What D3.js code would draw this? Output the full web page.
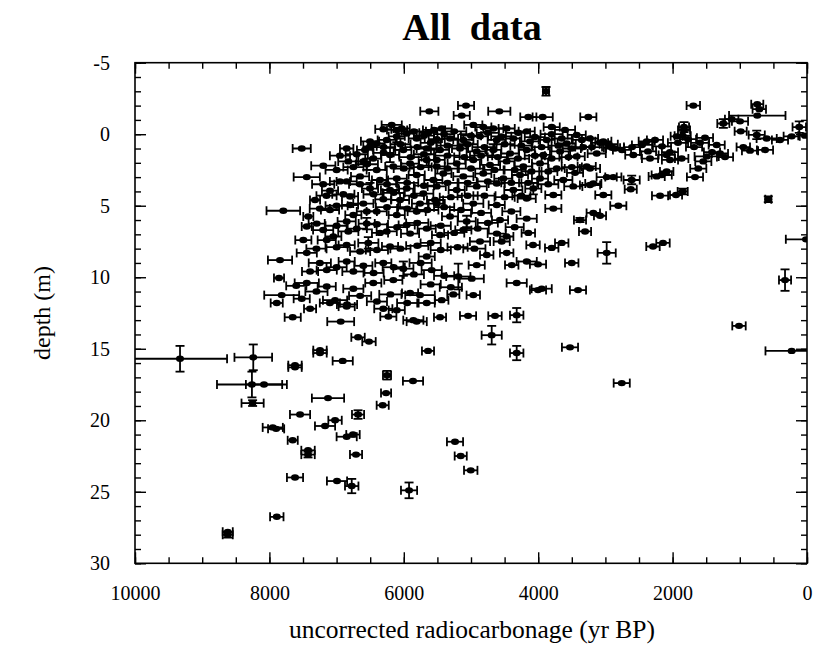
<!DOCTYPE html>
<html>
<head>
<meta charset="utf-8">
<script src="https://cdn.jsdelivr.net/npm/d3@7/dist/d3.min.js"></script>
<style>
  html, body { margin: 0; padding: 0; background: #fff; }
  svg { display: block; }
</style>
</head>
<body>
<svg id="chart" width="815" height="646"></svg>
<script>
// ---- data: [age (yr BP), depth (m), age error (yr), depth error (m)] ----
const titleText = "All  data";
const xLabel = "uncorrected radiocarbonage (yr BP)";
const yLabel = "depth (m)";
const xMajorTicks = [10000, 8000, 6000, 4000, 2000, 0];
const yMajorTicks = [-5, 0, 5, 10, 15, 20, 25, 30];

const isolatedPoints = [
  [9330,15.7,700,0.9],[8240,15.6,280,0.9],[8260,17.5,520,0.9],[8080,17.5,270,0],
  [8250,18.8,165,0.2],[8620,28.0,75,0.2],[8620,27.8,75,0],[7890,26.75,100,0],
  [7950,20.5,150,0],[7900,20.6,120,0],[7653,21.4,75,0],[7425,22.4,100,0.2],
  [7425,22.1,100,0],[7619,24.0,120,0],[7172,20.4,150,0],[7023,20.0,100,0],
  [6850,21.15,150,0],[6756,21.0,100,0],[6711,22.4,90,0],[6994,24.25,150,0],
  [6775,24.6,100,0.5],[5922,24.9,120,0.55],[5238,21.5,120,0],[5153,22.5,90,0],
  [5004,23.5,100,0],[7842,8.8,180,0],[7857,10.05,75,0],[7817,11.25,260,0],
  [7891,11.8,90,0],[7653,12.8,120,0],[7519,11.5,120,0],[7395,12.2,90,0],
  [7023,11.6,180,0],[6939,13.1,200,0],[6845,11.9,150,0],[6681,14.2,100,0],
  [6518,14.5,100,0],[7247,15.1,100,0],[7247,15.3,100,0],[7619,16.15,100,0],
  [7619,16.3,100,0],[6909,15.85,150,0],[7128,18.45,240,0],[7544,19.6,150,0],
  [6681,19.6,90,0.3],[6250,16.85,60,0.3],[6264,18.1,75,0],[6314,18.95,90,0],
  [2981,8.3,135,0.75],[2292,7.85,100,0],[2143,7.6,100,0],[3501,9.0,100,0],
  [3408,10.9,120,0],[3527,14.9,120,0],[2757,17.4,120,0],[1012,13.4,100,0],
  [327,10.2,90,0.75],[228,15.15,390,0],[15,7.35,300,0],[4320,12.65,100,0.5],
  [4320,15.3,100,0.5],[4692,14.05,150,0.65],[4320,10.4,150,0],[4643,12.7,100,0],
  [5044,12.7,120,0],[5461,12.8,90,0],[5808,13.1,150,0],[5640,15.15,90,0],
  [5863,17.25,150,0],[3948,10.8,150,0],[4003,10.9,120,0],[4003,9.1,120,0],
  [4171,8.9,150,0],[4394,9.15,100,0],[4077,7.75,100,0],[3799,7.95,100,0],
  [3650,7.6,100,0],[4469,8.3,100,0],[4766,8.45,100,0],[5189,9.95,180,0.9],
  [4989,10.1,180,0],[5585,9.5,150,0],[5263,11.2,90,0],[4966,11.25,100,0],
  [5436,11.6,100,0],[5759,11.25,220,0],[4469,7.15,100,0],[4147,6.9,100,0]
];

const topPoints = [
  [3884,-3.0,45,0.3],[5620,-1.6,135,0],[5074,-2.0,120,0],[5138,-1.3,120,0],
  [4579,-1.6,165,0],[4147,-1.2,120,0],[3933,-1.2,150,0],[3254,-1.2,120,0],
  [1692,-2.0,100,0],[740,-2.1,90,0],[710,-1.75,100,0],[740,-1.3,420,0],
  [1121,-1.05,100,0],[1245,-0.75,90,0.3],[997,-0.9,120,0],[987,-0.2,90,0],
  [115,-0.5,100,0.4],[1830,-0.5,75,0.35],[1850,0.1,120,0],[576,4.55,45,0.2],
  [5436,-0.4,150,0],[4469,-0.4,120,0],[3799,-0.5,120,0],[3601,-0.3,150,0]
];

const rightBand = [
  [1830,-0.3,90,0],[1939,0.15,90,0],[748,0.05,120,0.3],[600,0.3,150,0],
  [402,0.4,120,0],[228,0.15,120,0],[30,0.1,100,0],[1344,0.75,120,0],
  [1220,1.6,120,0],[948,0.9,100,0],[848,1.15,120,0],[625,1.1,120,0],
  [1493,1.55,180,0],[1543,1.9,120,0],[1618,2.4,120,0],[1667,3.0,120,0],
  [2162,2.85,150,0],[2237,2.95,120,0],[2088,2.6,100,0],[2187,4.3,120,0],
  [1949,4.25,90,0],[1850,4.0,75,0.2],[2808,5.0,120,0],[3031,4.25,120,0],
  [2609,3.2,120,0.3],[2623,3.85,90,0],[2981,3.0,150,0],[3180,5.5,100,0],
  [3378,6.0,90,0.15],[3080,5.7,90,0],[3303,6.8,90,0],[3229,2.4,150,0],
  [3229,3.55,150,0],[3452,2.7,120,0],[1865,1.7,100,0],[2039,1.8,120,0],
  [1295,1.35,120,0],[3080,0.6,120,0],[2902,0.95,120,0],[2753,1.1,135,0],
  [2604,0.9,120,0],[2455,0.75,150,0],[2366,1.2,120,0],[2262,0.4,120,0],
  [2158,0.85,135,0],[2039,1.25,120,0],[1920,0.6,150,0],[1771,0.35,120,0],
  [1681,0.9,120,0],[1592,0.6,135,0],[1518,0.25,120,0],[1414,1.25,120,0],
  [2585,1.45,120,0],[2385,0.5,120,0],[2336,1.7,120,0],[2088,1.45,120,0],
  [2882,3.0,120,0]
];

const denseCluster = [
  [7519,1.0,135,0],[7198,2.2,180,0],[7444,3.0,195,0],[7793,5.35,250,0],
  [6850,1.0,100,0],[6826,1.9,150,0],[7098,3.95,120,0],[7321,4.6,75,0],
  [7421,5.75,75,0],[7444,6.45,75,0],[6850,3.3,150,0],[6602,4.85,150,0],
  [6800,4.95,120,0],[6180,-0.65,150,0],[6305,-0.35,120,0],[6403,0.65,120,0],
  [6503,0.85,100,0],[6254,0.4,135,0],[6105,0.15,120,0.4],[5957,-0.05,150,0],
  [5808,0.3,120,0],[5635,-0.1,135,0],[5510,0.35,120,0],[5659,1.0,150,0],
  [6007,1.1,120,0],[6205,1.45,135,0.5],[6454,1.7,120,0],[6602,1.9,100,0],
  [6403,2.5,150,0],[6156,2.25,120,0],[5907,2.05,135,0],[5659,1.8,120,0.4],
  [5510,2.25,120,0],[6651,2.95,135,0],[6354,3.2,120,0],[6105,3.1,150,0],
  [5808,2.85,120,0],[5561,3.2,135,0],[6503,3.8,120,0.4],[6205,3.9,135,0],
  [5957,3.8,120,0],[5710,4.15,150,0],[6800,4.35,120,0],[6305,4.55,120,0],
  [6056,4.6,135,0.5],[5759,4.85,120,0],[5535,4.6,120,0],[7098,5.3,135,0],
  [6751,5.65,120,0],[6403,5.4,150,0],[6105,5.65,120,0],[5808,5.4,135,0],
  [7296,6.25,120,0],[6850,6.1,135,0],[6552,6.25,120,0.4],[6254,6.8,150,0],
  [5957,6.35,120,0],[5659,6.6,135,0],[7049,7.15,120,0],[6577,1.1,120,0],
  [6503,0.5,135,0],[6826,6.8,150,0],[6354,6.9,120,0],[7444,8.3,150,0],
  [7495,7.4,120,0],[7147,7.4,135,0],[6850,7.75,120,0],[6528,7.6,150,0.4],
  [6205,7.85,120,0],[5907,6.95,135,0],[6850,8.9,120,0],[7147,9.5,150,0],
  [7395,9.6,120,0],[6602,9.2,135,0],[6305,9.0,120,0],[6007,9.4,150,0.5],
  [5659,8.55,120,0],[7444,10.4,180,0],[7147,10.65,135,0],[6751,10.8,150,0],
  [6454,10.4,120,0],[6156,10.2,135,0],[5907,11.1,120,0],[6850,12.05,120,0],
  [6305,12.2,135,0],[6105,12.3,120,0],[6230,12.75,120,0],[5858,13.0,150,0],
  [5659,11.8,120,0],[5510,3.65,135,0],[5213,3.9,120,0],[4915,3.65,150,0],
  [4617,3.45,120,0],[4370,3.9,135,0],[4073,3.8,120,0.4],[3775,4.25,120,0],
  [3478,3.65,135,0],[3180,3.45,120,0],[5510,4.85,120,0],[4966,4.85,150,0],
  [4617,4.95,120,0],[4171,4.5,135,0],[3775,5.2,120,0],[5312,5.75,120,0],
  [5064,6.1,135,0.4],[4568,6.0,120,0],[4171,5.9,150,0],[5114,6.7,120,0],
  [4617,6.95,135,0],[5461,7.05,120,0],[4866,7.5,150,0],[4543,7.5,120,0],
  [4915,9.15,120,0],[4966,-0.65,135,0],[4817,-0.5,120,0],[4668,-0.4,150,0],
  [4171,-0.2,120,0],[3427,0.05,135,0],[3229,0.3,120,0],[3031,0.5,120,0],
  [2857,1.0,135,0],[5312,0.3,120,0],[5114,0.4,150,0.4],[4866,0.15,120,0],
  [4617,0.4,135,0],[4370,0.3,120,0],[4122,0.5,150,0],[3873,0.4,120,0],
  [3576,0.65,135,0],[3329,0.9,120,0],[5461,1.1,135,0],[5163,1.0,120,0],
  [4915,1.2,150,0],[4668,1.1,120,0.4],[4419,1.35,135,0],[4171,1.1,120,0],
  [3924,1.45,120,0],[3675,1.2,150,0],[3427,1.55,120,0],[3129,1.35,135,0],
  [5510,1.8,120,0],[5213,2.05,135,0],[4966,1.8,120,0],[4717,2.15,150,0],
  [4469,1.9,120,0],[4222,2.25,135,0],[3973,2.05,120,0],[3725,2.4,120,0],
  [3278,2.25,135,0],[5412,2.75,120,0],[5114,2.95,150,0],[4817,2.75,120,0],
  [4519,3.1,135,0],[4271,2.85,120,0],[3973,3.1,120,0],[3626,3.2,135,0],
  [6031,-0.4,120,0]
];

const denseInfill = [
  [6100,-0.3,150,0],[5850,-0.2,180,0],[5700,0.1,150,0],[5550,-0.3,165,0],
  [5400,0.0,150,0],[5250,-0.2,180,0],[5000,0.1,150,0],[4750,-0.1,165,0],
  [4550,0.15,150,0],[4300,-0.1,180,0],[4050,0.2,150,0],[3800,0.0,165,0],
  [3650,0.3,150,0],[3350,0.4,135,0],
  [6300,0.9,165,0],[6050,0.7,150,0.4],[5800,0.9,180,0],[5600,0.6,150,0],
  [5350,0.8,165,0],[5050,0.7,150,0],[4800,0.9,180,0],[4500,0.7,150,0],
  [4250,0.8,165,0],[3950,0.9,150,0],[3700,0.8,150,0],[3500,1.0,135,0],
  [3200,0.9,150,0],[2950,0.7,135,0],
  [6950,1.5,150,0],[6700,1.4,165,0],[6300,1.3,150,0],[5900,1.6,165,0],
  [5700,1.4,150,0],[5350,1.5,180,0],[5100,1.6,150,0],[4850,1.5,165,0],
  [4600,1.6,150,0],[4300,1.7,165,0],[4050,1.5,150,0],[3800,1.7,150,0],
  [3550,1.6,135,0],
  [7000,2.5,165,0],[6750,2.3,150,0],[6550,2.1,165,0.4],[6000,2.4,150,0],
  [5750,2.3,165,0],[5350,2.4,150,0],[5000,2.4,180,0],[4650,2.5,150,0],
  [4350,2.5,165,0],[4100,2.6,150,0],[3850,2.6,135,0],[3500,2.3,150,0],
  [7200,3.5,165,0],[6950,3.3,150,0],[6650,3.5,165,0],[6250,3.5,150,0],
  [5950,3.4,165,0],[5700,3.6,150,0],[5350,3.4,165,0],[5050,3.4,150,0],
  [4750,3.3,165,0],[4400,3.4,150,0],[4150,3.4,135,0],[3850,3.5,150,0],
  [7150,4.3,150,0],[6900,4.2,165,0],[6450,4.2,150,0],[6150,4.1,165,0],
  [5850,4.3,150,0],[5300,4.4,165,0],[5050,4.3,150,0],[4800,4.3,165,0],
  [4500,4.4,150,0],[4250,4.3,135,0],
  [7250,5.2,150,0],[7000,5.0,165,0],[6550,5.4,150,0],[6250,5.1,165,0],
  [5950,5.2,150,0],[5650,5.3,165,0],[5400,5.1,150,0],[5150,5.3,165,0],
  [4850,5.5,150,0],[4400,5.4,135,0],
  [7200,6.7,150,0],[7000,6.4,165,0],[6700,6.6,150,0],[6400,6.3,165,0],
  [6100,6.5,150,0],[5800,6.2,165,0],[5450,6.4,150,0],[5250,6.9,150,0],
  [4900,6.6,165,0],[4750,6.2,150,0],[4350,6.5,135,0],
  [7300,8.0,150,0],[7000,7.9,165,0],[6650,8.2,150,0],[6400,8.1,165,0],
  [6050,8.0,150,0],[5800,7.8,165,0],[5450,8.1,150,0],[5200,7.9,150,0],
  [4950,8.0,165,0],[5600,7.6,150,0],
  [7250,9.0,165,0],[7000,9.3,150,0],[6750,9.6,165,0],[6450,9.7,150,0],
  [6150,9.3,165,0],[5850,9.8,150,0],[5750,9.0,165,0],[5400,9.9,150,0],
  [7600,10.6,150,0],[7300,11.0,165,0],[7100,11.8,150,0],[6650,11.3,165,0],
  [6400,11.7,150,0],[6200,11.2,165,0],[5950,11.8,150,0],[5600,10.5,150,0],
  [5300,10.7,165,0]
];

const allPoints = [].concat(isolatedPoints, topPoints, rightBand, denseCluster, denseInfill);

// ---- layout ----
const FONT = '"Times New Roman", "Liberation Serif", "DejaVu Serif", serif';
const svg = d3.select("#chart");
const mLeft = 135, mRight = 807, mTop = 62.7, mBottom = 563.3;
const x = d3.scaleLinear().domain([10000, 0]).range([mLeft, mRight]);
const y = d3.scaleLinear().domain([-5, 30]).range([mTop, mBottom]);

svg.append("defs").append("clipPath").attr("id", "plotClip")
  .append("rect").attr("x", mLeft).attr("y", mTop)
  .attr("width", mRight - mLeft).attr("height", mBottom - mTop);

// axes (inward ticks)
const xMinor = d3.range(0, 10001, 500);
const yMinor = d3.range(-5, 30.01, 1);
const fmt = d => String(d);

function styleAxis(g) {
  g.attr("font-family", FONT);
  g.select(".domain").remove();
  g.selectAll("line").attr("stroke", "#000").attr("stroke-width", 1.4);
  g.selectAll("text").attr("font-family", FONT).style("font-family", FONT)
    .attr("font-size", 20).style("font-size", "20px").attr("fill", "#000");
}

svg.append("g").attr("transform", `translate(0,${mBottom})`)
  .call(d3.axisBottom(x).tickValues(xMinor).tickSize(-6).tickFormat("")).call(styleAxis);
svg.append("g").attr("transform", `translate(0,${mBottom})`)
  .call(d3.axisBottom(x).tickValues(xMajorTicks).tickSize(-11).tickPadding(23).tickFormat(fmt)).call(styleAxis);
svg.append("g").attr("transform", `translate(0,${mTop})`)
  .call(d3.axisTop(x).tickValues(xMinor).tickSize(-6).tickFormat("")).call(styleAxis);
svg.append("g").attr("transform", `translate(0,${mTop})`)
  .call(d3.axisTop(x).tickValues(xMajorTicks).tickSize(-11).tickFormat("")).call(styleAxis);

svg.append("g").attr("transform", `translate(${mLeft},0)`)
  .call(d3.axisLeft(y).tickValues(yMinor).tickSize(-6).tickFormat("")).call(styleAxis);
svg.append("g").attr("transform", `translate(${mLeft},0)`)
  .call(d3.axisLeft(y).tickValues(yMajorTicks).tickSize(-11).tickPadding(25).tickFormat(fmt)).call(styleAxis);
svg.append("g").attr("transform", `translate(${mRight},0)`)
  .call(d3.axisRight(y).tickValues(yMinor).tickSize(-6).tickFormat("")).call(styleAxis);
svg.append("g").attr("transform", `translate(${mRight},0)`)
  .call(d3.axisRight(y).tickValues(yMajorTicks).tickSize(-11).tickFormat("")).call(styleAxis);

// frame
svg.append("rect").attr("x", mLeft).attr("y", mTop)
  .attr("width", mRight - mLeft).attr("height", mBottom - mTop)
  .attr("fill", "none").attr("stroke", "#000").attr("stroke-width", 1.6);

// error bars + points
const plot = svg.append("g").attr("clip-path", "url(#plotClip)");
const cap = 4.5;
const pts = plot.selectAll("g.pt").data(allPoints).join("g").attr("class", "pt");
pts.each(function(d) {
  const g = d3.select(this);
  const cx = x(d[0]), cy = y(d[1]);
  const x1 = x(d[0] + d[2]), x2 = x(d[0] - d[2]);
  g.append("line").attr("x1", x1).attr("x2", x2).attr("y1", cy).attr("y2", cy);
  g.append("line").attr("x1", x1).attr("x2", x1).attr("y1", cy - cap).attr("y2", cy + cap);
  g.append("line").attr("x1", x2).attr("x2", x2).attr("y1", cy - cap).attr("y2", cy + cap);
  if (d[3] > 0) {
    const y1 = y(d[1] - d[3]), y2 = y(d[1] + d[3]);
    g.append("line").attr("x1", cx).attr("x2", cx).attr("y1", y1).attr("y2", y2);
    g.append("line").attr("x1", cx - cap).attr("x2", cx + cap).attr("y1", y1).attr("y2", y1);
    g.append("line").attr("x1", cx - cap).attr("x2", cx + cap).attr("y1", y2).attr("y2", y2);
  }
  g.append("ellipse").attr("cx", cx).attr("cy", cy).attr("rx", 4).attr("ry", 3.2).attr("fill", "#000");
});
plot.selectAll("line").attr("stroke", "#000").attr("stroke-width", 1.8);

// titles
svg.append("text").attr("x", 472).attr("y", 40).attr("text-anchor", "middle")
  .attr("font-family", FONT).style("font-family", FONT)
  .style("font-size", "38px").style("font-weight", "bold").style("white-space", "pre")
  .text(titleText);
svg.append("text").attr("x", 472).attr("y", 638).attr("text-anchor", "middle")
  .attr("font-family", FONT).style("font-family", FONT)
  .style("font-size", "25.5px").text(xLabel);
svg.append("text").attr("transform", "translate(50,313) rotate(-90)").attr("text-anchor", "middle")
  .attr("font-family", FONT).style("font-family", FONT)
  .style("font-size", "24px").text(yLabel);
</script>
</body>
</html>
